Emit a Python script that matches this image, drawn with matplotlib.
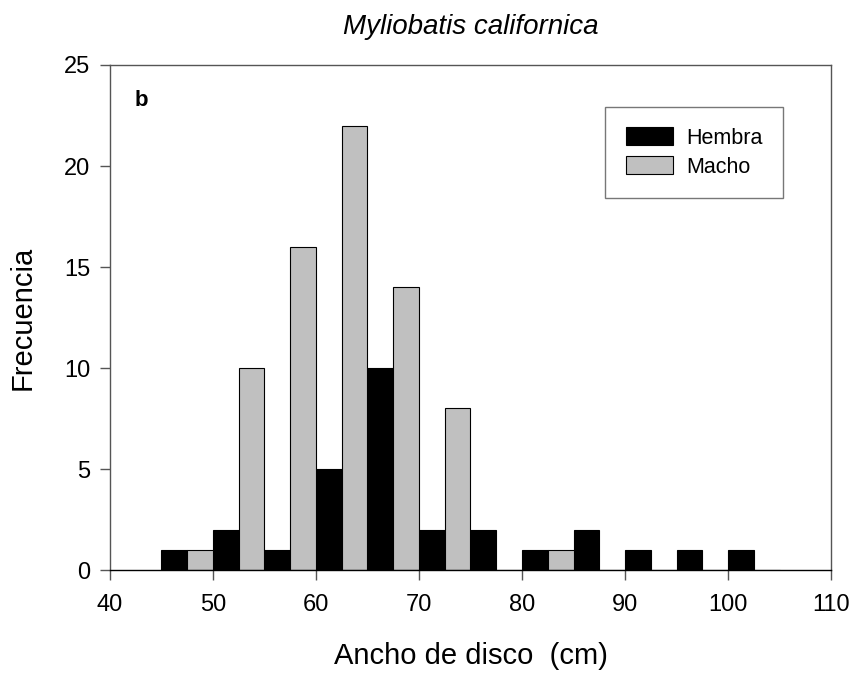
import matplotlib.pyplot as plt
import numpy as np

# Clases de ancho de disco (límite inferior, cm) y frecuencias por sexo
clases = [45, 50, 55, 60, 65, 70, 75, 80, 85, 90, 95, 100]
hembra = [1, 2, 1, 5, 10, 2, 2, 1, 2, 1, 1, 1]
macho = [1, 10, 16, 22, 14, 8, 0, 1, 0, 0, 0, 0]

plt.rcParams['font.family'] = ['Liberation Sans', 'DejaVu Sans']

fig = plt.figure(figsize=(8.57, 6.77), dpi=100)
ax = fig.add_axes([0.128, 0.158, 0.842, 0.746])

x = np.array(clases, dtype=float)
ax.bar(x, hembra, width=2.5, align='edge', color='black', edgecolor='black',
       linewidth=0.8, label='Hembra')
ax.bar(x + 2.5, macho, width=2.5, align='edge', color='#c0c0c0', edgecolor='black',
       linewidth=0.8, label='Macho')

ax.set_xlim(40, 110)
ax.set_ylim(0, 25)
ax.set_xticks(range(40, 111, 10))
ax.set_yticks(range(0, 26, 5))
ax.tick_params(direction='out', length=7, width=1, color='#555555',
               labelsize=17, top=False, right=False)
ax.tick_params(axis='x', pad=10)
ax.tick_params(axis='y', pad=7)
for s in ax.spines.values():
    s.set_color('#555555')
    s.set_linewidth(1)
ax.spines['bottom'].set_color('black')

ax.set_xlabel('Ancho de disco  (cm)', fontsize=21, labelpad=19)
ax.set_ylabel('Frecuencia', fontsize=21, labelpad=20)
ax.set_title('Myliobatis californica', fontsize=20, style='italic', pad=22)
ax.text(0.035, 0.93, 'b', transform=ax.transAxes, fontsize=16, fontweight='bold',
        va='center', ha='left')

leg = ax.legend(loc='upper right', bbox_to_anchor=(0.933, 0.917), fontsize=15.5,
                fancybox=False, edgecolor='#555555', handlelength=2.2,
                handleheight=0.9, borderpad=0.95, labelspacing=0.35,
                handletextpad=0.6, borderaxespad=0)
leg.get_frame().set_linewidth(1)

plt.savefig('out.png', dpi=100)
plt.close()
